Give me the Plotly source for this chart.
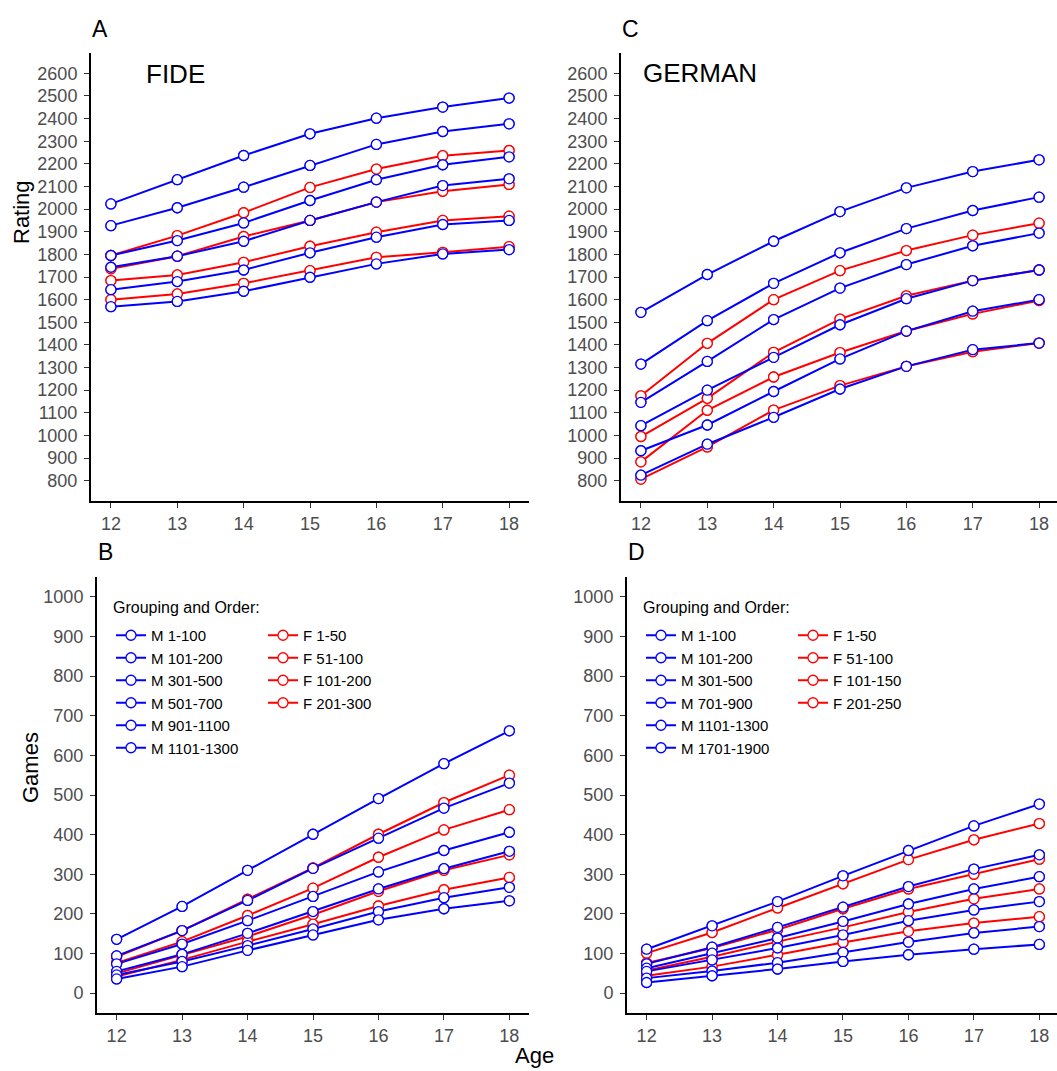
import plotly.graph_objects as go

W, H = 1057, 1071
FONT = "Liberation Sans"
BLUE = "#0000FF"
RED = "#FF0000"

ages = [12, 13, 14, 15, 16, 17, 18]
age_ticks = ["12", "13", "14", "15", "16", "17", "18"]
rating_ticks = [800, 900, 1000, 1100, 1200, 1300, 1400, 1500, 1600, 1700,
                1800, 1900, 2000, 2100, 2200, 2300, 2400, 2500, 2600]
games_ticks = [0, 100, 200, 300, 400, 500, 600, 700, 800, 900, 1000]

# ---- Panel A: FIDE rating ----
fide_male_groups = ["M 1-100", "M 101-200", "M 301-500", "M 501-700", "M 901-1100", "M 1101-1300"]
fide_female_groups = ["F 1-50", "F 51-100", "F 101-200", "F 201-300"]
fide_male_rating = [
    [2023, 2130, 2237, 2333, 2402, 2451, 2491],
    [1927, 2006, 2097, 2193, 2286, 2343, 2377],
    [1795, 1861, 1939, 2038, 2130, 2196, 2231],
    [1743, 1792, 1858, 1950, 2031, 2104, 2134],
    [1644, 1680, 1731, 1807, 1876, 1932, 1950],
    [1569, 1592, 1637, 1699, 1758, 1802, 1821],
]
fide_female_rating = [
    [1795, 1883, 1984, 2096, 2177, 2236, 2259],
    [1736, 1792, 1879, 1950, 2031, 2079, 2109],
    [1684, 1709, 1765, 1836, 1898, 1950, 1969],
    [1600, 1625, 1672, 1728, 1787, 1809, 1834],
]

# ---- Panel B: FIDE games ----
fide_male_games = [
    [136, 219, 310, 401, 491, 579, 662],
    [94, 158, 234, 315, 391, 467, 530],
    [74, 124, 183, 244, 306, 360, 406],
    [55, 98, 151, 206, 263, 314, 358],
    [46, 80, 120, 162, 206, 241, 267],
    [36, 67, 108, 147, 185, 213, 233],
]
fide_female_games = [
    [92, 158, 237, 316, 401, 481, 550],
    [76, 130, 196, 265, 343, 412, 463],
    [50, 97, 143, 198, 257, 310, 349],
    [42, 84, 130, 174, 220, 261, 292],
]

# ---- Panel C: German rating ----
ger_male_groups = ["M 1-100", "M 101-200", "M 301-500", "M 701-900", "M 1101-1300", "M 1701-1900"]
ger_female_groups = ["F 1-50", "F 51-100", "F 101-150", "F 201-250"]
ger_male_rating = [
    [1544, 1711, 1858, 1989, 2094, 2166, 2218],
    [1315, 1507, 1672, 1807, 1914, 1994, 2053],
    [1146, 1327, 1512, 1651, 1755, 1838, 1894],
    [1043, 1200, 1345, 1489, 1604, 1684, 1731],
    [932, 1046, 1194, 1338, 1461, 1549, 1600],
    [824, 961, 1080, 1205, 1305, 1379, 1408],
]
ger_female_rating = [
    [1175, 1407, 1600, 1728, 1817, 1885, 1938],
    [995, 1164, 1367, 1514, 1617, 1684, 1731],
    [883, 1111, 1258, 1366, 1461, 1537, 1596],
    [807, 949, 1112, 1220, 1305, 1370, 1408],
]

# ---- Panel D: German games ----
ger_male_games = [
    [111, 170, 231, 296, 360, 422, 477],
    [74, 116, 166, 217, 269, 313, 349],
    [63, 101, 139, 181, 225, 263, 294],
    [55, 84, 114, 147, 183, 210, 231],
    [38, 56, 77, 103, 129, 152, 168],
    [27, 44, 61, 80, 97, 111, 123],
]
ger_female_games = [
    [101, 153, 215, 276, 337, 387, 428],
    [76, 114, 160, 213, 263, 300, 338],
    [57, 92, 130, 166, 205, 238, 263],
    [44, 67, 97, 128, 156, 177, 193],
]


def px_x(p):
    return p / W


def px_y(p):
    return 1 - p / H


fig = go.Figure()

panels = [
    ("x", "y", fide_male_groups, fide_male_rating, fide_female_groups, fide_female_rating, None, None),
    ("x2", "y2", fide_male_groups, fide_male_games, fide_female_groups, fide_female_games, "legend", "legend2"),
    ("x3", "y3", ger_male_groups, ger_male_rating, ger_female_groups, ger_female_rating, None, None),
    ("x4", "y4", ger_male_groups, ger_male_games, ger_female_groups, ger_female_games, "legend3", "legend4"),
]

LW = 2
MSIZE = 10


def add_series(xa, ya, name, vals, color, legend, mode, show):
    kw = {}
    if legend is not None:
        kw["legend"] = legend
    fig.add_trace(go.Scatter(
        x=ages, y=vals, name=name, mode=mode, xaxis=xa, yaxis=ya,
        line=dict(color=color, width=LW),
        marker=dict(symbol="circle", size=MSIZE, color="white",
                    line=dict(color=color, width=1.3)),
        showlegend=show, hoverinfo="x+y+name", **kw))


# pass 1: lines (+ markers, for legend)
for xa, ya, mg, mv, fg, fv, lm, lf in panels:
    for name, vals in zip(fg, fv):
        add_series(xa, ya, name, vals, RED, lf, "lines+markers", lf is not None)
    for name, vals in zip(mg, mv):
        add_series(xa, ya, name, vals, BLUE, lm, "lines+markers", lm is not None)

# pass 2: markers on top of all lines
for xa, ya, mg, mv, fg, fv, lm, lf in panels:
    for name, vals in zip(fg, fv):
        add_series(xa, ya, name, vals, RED, None, "markers", False)
    for name, vals in zip(mg, mv):
        add_series(xa, ya, name, vals, BLUE, None, "markers", False)

TICKFONT = dict(family=FONT, size=18, color="#4d4d4d")


def xaxis(dom_px, rng, anchor):
    return dict(domain=[px_x(dom_px[0]), px_x(dom_px[1])], range=rng, anchor=anchor,
                tickmode="array", tickvals=ages, ticktext=age_ticks,
                showline=True, linecolor="black", linewidth=2,
                ticks="outside", ticklen=5, tickwidth=1.3, tickcolor="#333333",
                tickfont=TICKFONT, showgrid=False, zeroline=False, fixedrange=True)


def yaxis(dom_px, rng, anchor, tv):
    return dict(domain=[px_y(dom_px[1]), px_y(dom_px[0])], range=rng, anchor=anchor,
                tickmode="array", tickvals=tv, ticktext=[str(v) for v in tv],
                showline=True, linecolor="black", linewidth=2,
                ticks="outside", ticklen=5, tickwidth=1.3, tickcolor="#333333",
                tickfont=TICKFONT, showgrid=False, zeroline=False, fixedrange=True,
                ticklabelstandoff=3)


top_y = (53, 501)
bot_y = (577, 1013)

layout = dict(
    width=W, height=H,
    margin=dict(l=0, r=0, t=0, b=0),
    paper_bgcolor="white", plot_bgcolor="white",
    font=dict(family=FONT, color="black"),
    xaxis=xaxis((91, 529), [11.7, 18.3], "y"),
    yaxis=yaxis(top_y, [710, 2690], "x", rating_ticks),
    xaxis2=xaxis((97, 529), [11.7, 18.3], "y2"),
    yaxis2=yaxis(bot_y, [-50, 1050], "x2", games_ticks),
    xaxis3=xaxis((621, 1057), [11.7, 18.27], "y3"),
    yaxis3=yaxis(top_y, [710, 2690], "x3", rating_ticks),
    xaxis4=xaxis((627, 1057), [11.7, 18.27], "y4"),
    yaxis4=yaxis(bot_y, [-50, 1050], "x4", games_ticks),
    showlegend=True,
)

LEGFONT = dict(family=FONT, size=15, color="black")
leg_top = 619


def legend(xpx):
    return dict(x=px_x(xpx), y=px_y(leg_top), xanchor="left", yanchor="top",
                xref="paper", yref="paper", bgcolor="rgba(0,0,0,0)",
                font=LEGFONT, itemwidth=30, tracegroupgap=0,
                itemclick=False, itemdoubleclick=False)


layout["legend"] = legend(111)
layout["legend2"] = legend(263)
layout["legend3"] = legend(641)
layout["legend4"] = legend(793)

fig.update_layout(**layout)


def ann(text, xpx, ypx, size, xanchor="left", angle=0, color="black"):
    fig.add_annotation(text=text, x=px_x(xpx), y=px_y(ypx), xref="paper", yref="paper",
                       xanchor=xanchor, yanchor="middle", showarrow=False,
                       textangle=angle, font=dict(family=FONT, size=size, color=color))


ann("A", 90, 29, 23)
ann("C", 620, 29, 23)
ann("B", 96, 552, 23)
ann("D", 626, 552, 23)
ann("FIDE", 144, 74, 26)
ann("GERMAN", 641, 73, 26)
ann("Rating", 22, 212, 22, xanchor="center", angle=-90)
ann("Games", 30, 768, 22, xanchor="center", angle=-90)
ann("Age", 534, 1055, 22, xanchor="center")
ann("Grouping and Order:", 111, 607, 16)
ann("Grouping and Order:", 641, 607, 16)

fig.write_html("out.html", config={"displayModeBar": False},
               post_script="document.body.style.margin='0px';document.body.style.overflow='hidden';")
